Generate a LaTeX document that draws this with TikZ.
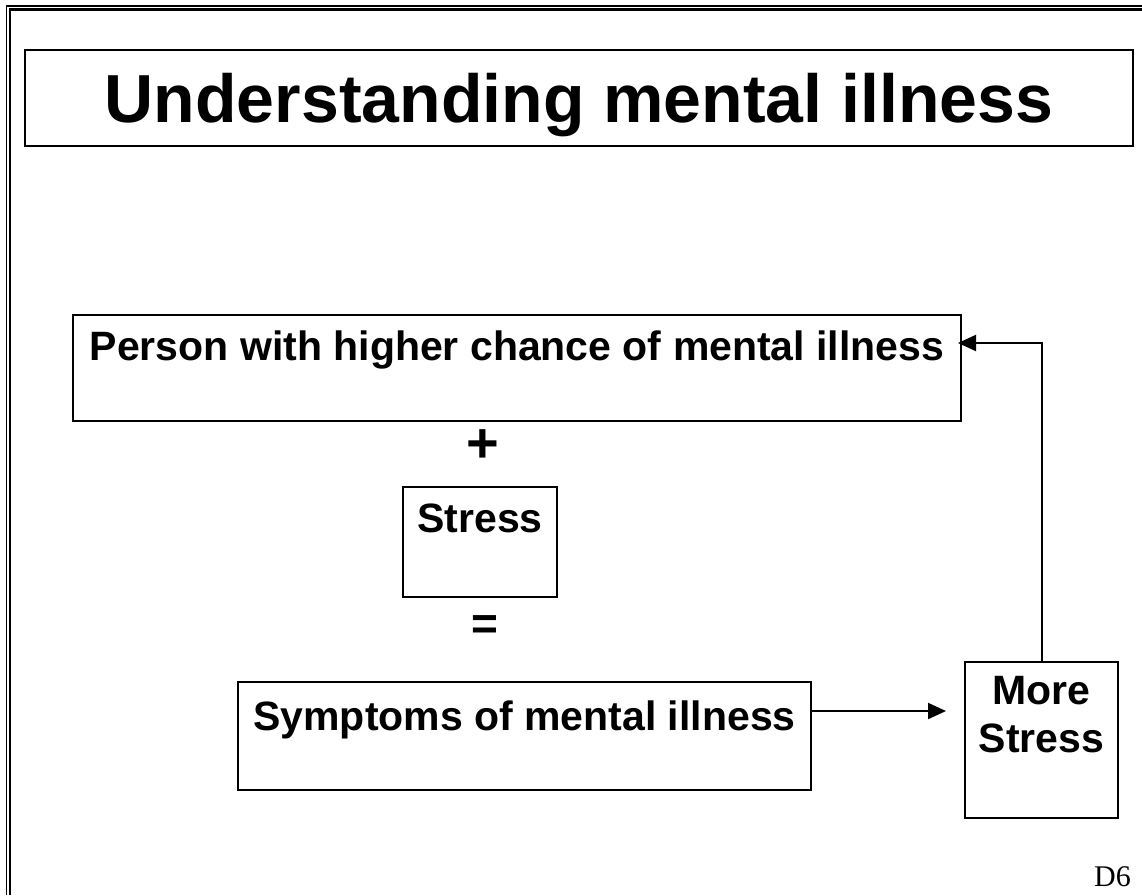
\documentclass[tikz,border=0pt]{standalone}
\usepackage{fontspec}
\setmainfont{Liberation Sans}
\newfontfamily\timesfont{Liberation Serif}
\usetikzlibrary{arrows.meta}
\tikzset{
  box/.style={draw, line width=2.2pt, inner sep=0pt, outer sep=0pt, anchor=north west, fill=none},
  lbl/.style={inner sep=0pt, anchor=base, font=\fontsize{41}{47}\selectfont\bfseries},
  arr/.style={line width=2pt, -{Triangle[length=18pt,width=16pt]}},
}
\begin{document}
\begin{tikzpicture}[x=1pt,y=-1pt]
\useasboundingbox[fill=white] (0,0) rectangle (1142,895);
% frame
\draw[line width=1.8pt] (6.5,895) -- (6.5,5.8) -- (1142,5.8);
\draw[line width=2.4pt] (10.2,895) -- (10.2,9.6) -- (1142,9.6);
% title
\node[box, minimum width=1108pt, minimum height=96pt] (titlebox) at (25,50) {};
\node[inner sep=0pt, anchor=base, font=\fontsize{68}{78}\selectfont\bfseries] (title) at (579,122) {Understanding mental illness};
% boxes
\node[box, minimum width=888pt, minimum height=106pt] (person) at (73,315) {};
\node[box, minimum width=154pt, minimum height=110pt] (stress) at (403,487) {};
\node[box, minimum width=573pt, minimum height=108pt] (symptoms) at (238,682) {};
\node[box, minimum width=153pt, minimum height=156pt] (more) at (965,662) {};
% texts
\node[lbl] (persontext) at (517,360) {Person with higher chance of mental illness};
\node[inner sep=0pt, font=\fontsize{56}{60}\selectfont\bfseries] (plus) at (483,446) {+};
\node[lbl] (stresstext) at (480,532) {Stress};
\node[inner sep=0pt, font=\fontsize{46}{50}\selectfont\bfseries] (equals) at (485,628) {=};
\node[lbl] (symptomstext) at (524.5,730) {Symptoms of mental illness};
\node[lbl] (moretext) at (1041.5,704) {More};
\node[lbl] (morestresstext) at (1041.5,752) {Stress};
\node[inner sep=0pt, anchor=base east, font=\timesfont\fontsize{30}{34}\selectfont] (d6) at (1131,886) {D6};
% connectors
\path ([yshift=25pt]symptoms.east) coordinate (s1);
\draw[arr, shorten >=19pt] (s1) -- (s1 -| more.west);
\path ([yshift=25pt]person.east) coordinate (p1);
\draw[arr, shorten >=-3pt] (more.north) |- (p1);
\end{tikzpicture}
\end{document}
